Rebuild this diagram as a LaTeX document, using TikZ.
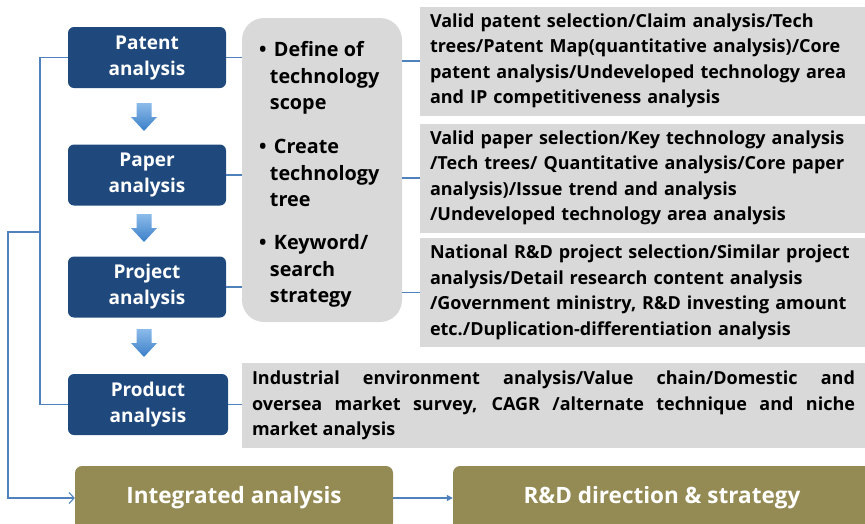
\documentclass[tikz,border=0pt]{standalone}
\usepackage{fontspec}
\setmainfont{Open Sans}
\usetikzlibrary{arrows.meta}
\definecolor{navy}{HTML}{1F497D}
\definecolor{olive}{HTML}{948A54}
\definecolor{lgray}{HTML}{D9D9D9}
\definecolor{lineblue}{HTML}{4F81BD}
\definecolor{arrtop}{HTML}{8CBBEA}
\definecolor{arrbot}{HTML}{3A7FC8}
\tikzset{
  bluebox/.style={fill=navy, rounded corners=6pt, minimum width=158pt, minimum height=61pt, text=white, align=center, inner sep=0pt, font=\fontsize{19}{26}\selectfont\bfseries},
  olivebox/.style={fill=olive, rounded corners=7pt, minimum height=64pt, text=white, inner sep=0pt, font=\fontsize{22.5}{26}\selectfont\bfseries},
  infobox/.style={fill=lgray, minimum width=445pt, minimum height=109pt, text width=425pt, inner xsep=10pt, align=left, font=\fontsize{18}{25.5}\selectfont\bfseries},
  downarr/.style={top color=arrtop, bottom color=arrbot},
  conn/.style={draw=lineblue, line width=1.1pt},
  bullettext/.style={anchor=north west, inner sep=0pt, align=left, font=\fontsize{19.8}{26.5}\selectfont\bfseries},
}
\begin{document}
\begin{tikzpicture}[x=1pt,y=-1pt]
\useasboundingbox (0,0) rectangle (865,523);
% left column
\node[bluebox] (patent) at (147,57.5) {Patent\\analysis};
\node[bluebox] (paper) at (147,175) {Paper\\analysis};
\node[bluebox] (project) at (147,287) {Project\\analysis};
\node[bluebox, minimum width=160pt] (product) at (148,404.5) {Product\\analysis};
\foreach \y in {103,214,329}
  \shade[downarr] (136.5,\y) -- (151.5,\y) -- (151.5,\y+14) -- (157,\y+14) -- (144,\y+28) -- (131,\y+14) -- (136.5,\y+14) -- cycle;
% scope box
\node[fill=lgray, rounded corners=22pt, minimum width=160pt, minimum height=304pt, inner sep=0pt] (scope) at (322,170) {};
\node[bullettext] (b1) at (259,38) {\begin{tabular}{@{}l@{\,}l@{}}\textbullet & \hspace{4pt}Define of\\ & technology\\ & scope\end{tabular}};
\node[bullettext] (b2) at (259,135) {\begin{tabular}{@{}l@{\,}l@{}}\textbullet & \hspace{4pt}Create\\ & technology\\ & tree\end{tabular}};
\node[bullettext] (b3) at (259,231) {\begin{tabular}{@{}l@{\,}l@{}}\textbullet & \hspace{4pt}Keyword/\\ & search\\ & strategy\end{tabular}};
% info boxes
\node[infobox] (i1) at (642.5,61) {Valid patent selection/Claim analysis/Tech\\trees/Patent Map(quantitative analysis)/Core\\patent analysis/Undeveloped technology area\\and IP competitiveness analysis};
\node[infobox] (i2) at (642.5,178) {Valid paper selection/Key technology analysis\\/Tech trees/ Quantitative analysis/Core paper\\analysis)/Issue trend and analysis\\/Undeveloped technology area analysis};
\node[infobox] (i3) at (642.5,292.5) {National R\&D project selection/Similar project\\analysis/Detail research content analysis\\/Government ministry, R\&D investing amount\\etc./Duplication-differentiation analysis};
\node[infobox, minimum width=623pt, minimum height=85pt, text width=603pt, align=justify] (i4) at (553.5,405.5) {Industrial environment analysis/Value chain/Domestic and\linebreak oversea market survey, CAGR /alternate technique and niche\linebreak market analysis};
% bottom boxes
\node[olivebox, minimum width=318pt] (integ) at (234,498) {Integrated analysis};
\node[olivebox, minimum width=418pt] (rd) at (662,498) {R\&D direction \& strategy};
% connectors
\draw[conn] (patent.east) -- (patent.east -| scope.west);
\draw[conn] (paper.east) -- (paper.east -| scope.west);
\draw[conn] (project.east) -- (project.east -| scope.west);
\draw[conn] (product.east) -- (product.east -| i4.west);
\draw[conn] (i1.west -| scope.east) -- (i1.west);
\draw[conn] (i2.west -| scope.east) -- (i2.west);
\draw[conn] (i3.west -| scope.east) -- (i3.west);
\coordinate (L1) at (40,232);
\coordinate (L2) at (8,232);
\draw[conn] (patent.west) -| (L1) |- (product.west);
\draw[conn, -{Straight Barb[length=5pt,width=11pt]}] (L1) -- (L2) |- (integ.west);
\draw[conn, -{Triangle[length=6pt,width=6pt]}] (integ.east) -- (rd.west);
\end{tikzpicture}
\end{document}
